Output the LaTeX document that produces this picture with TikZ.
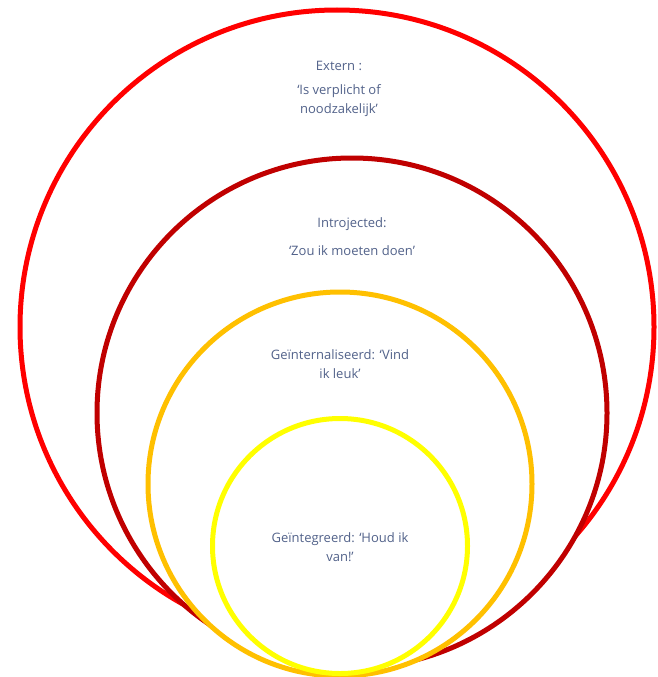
\documentclass[tikz,border=0pt]{standalone}
\usepackage{fontspec}
\setmainfont{Open Sans}
\definecolor{ringA}{HTML}{FF0000}
\definecolor{ringB}{HTML}{C00000}
\definecolor{ringC}{HTML}{FFC000}
\definecolor{ringD}{HTML}{FFFF00}
\definecolor{txt}{HTML}{52628A}
\begin{document}
\begin{tikzpicture}[x=1pt,y=-1pt,
  ring/.style={line width=5pt,circle,fill=white,inner sep=0pt},
  lbl/.style={text=txt,font=\fontsize{13}{19}\selectfont,align=center,inner sep=0pt}]
\useasboundingbox (0,0) rectangle (658,677);
\node[ring,draw=ringA,minimum size=634pt] (extern) at (337,327) {};
\node[ring,draw=ringB,minimum size=510pt] (introj) at (352,413) {};
\node[ring,draw=ringC,minimum size=384pt] (intern) at (340,484) {};
\node[ring,draw=ringD,minimum size=255pt] (integr) at (340,546) {};
\node[lbl] (t1) at (339,66) {Extern :};
\node[lbl] (t2) at (339,101) {‘Is verplicht of\\noodzakelijk’};
\node[lbl] (t3) at (352,224) {Introjected:};
\node[lbl] (t4) at (352,251) {‘Zou ik moeten doen’};
\node[lbl] (t5) at (340,364) {Geïnternaliseerd: ‘Vind\\ik leuk’};
\node[lbl] (t6) at (340,547) {Geïntegreerd: ‘Houd ik\\van!’};
\end{tikzpicture}
\end{document}
